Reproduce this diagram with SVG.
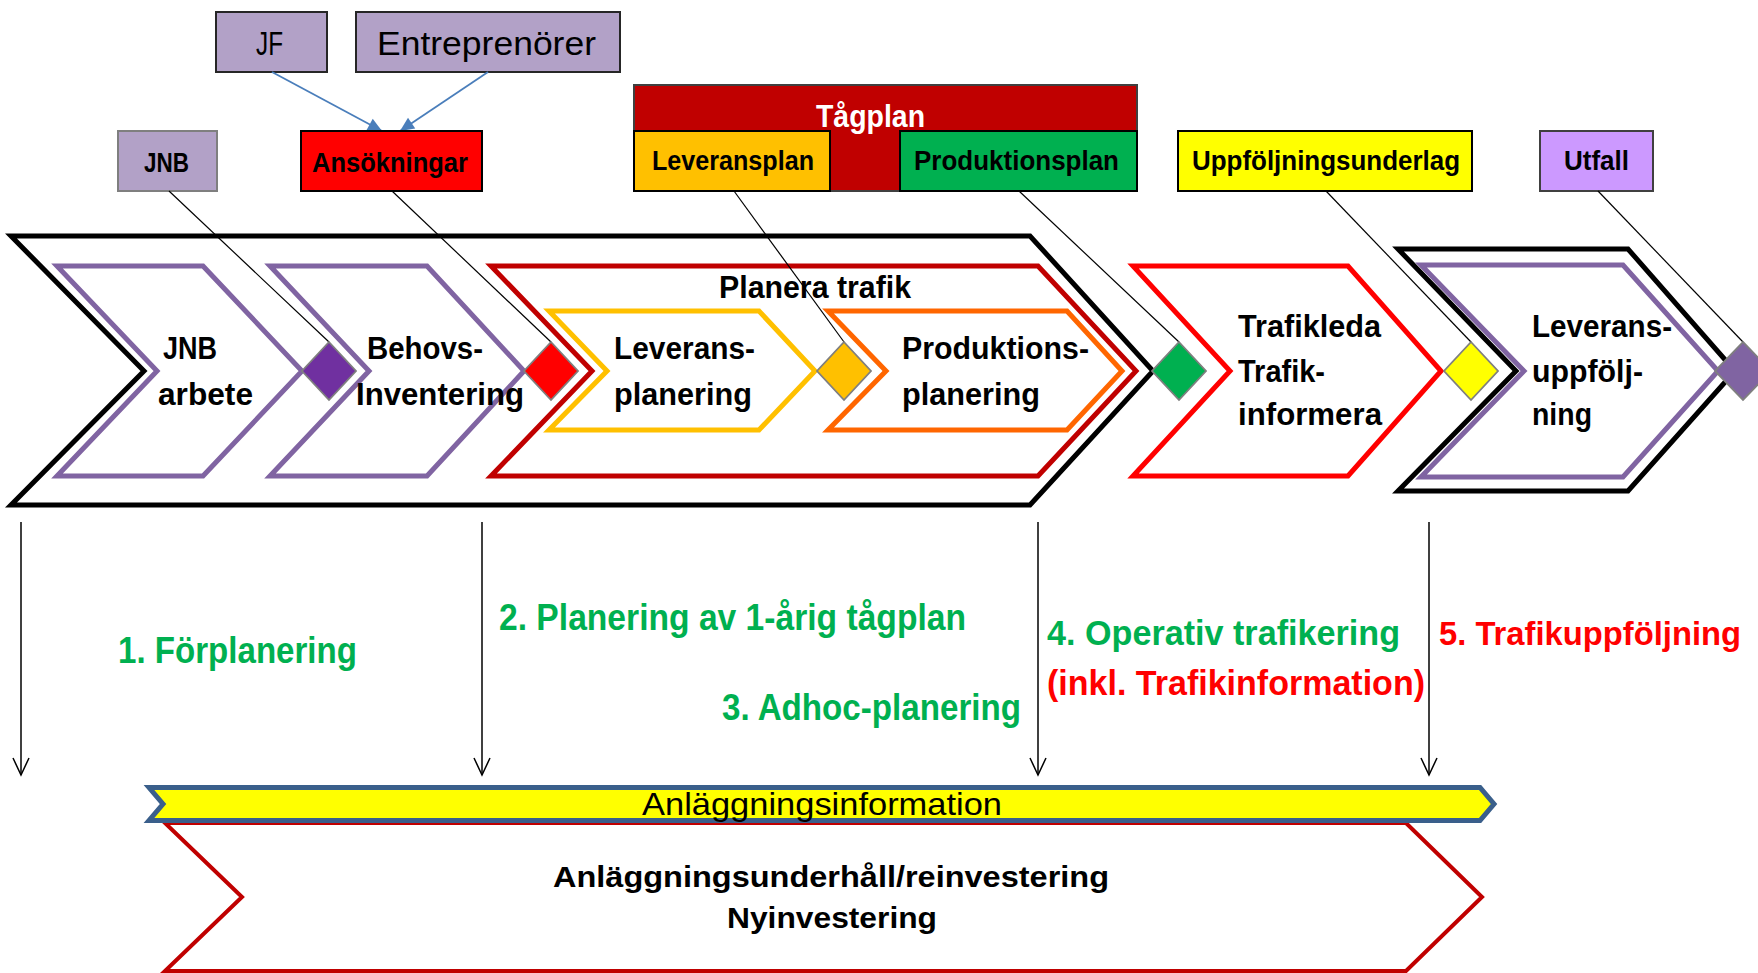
<svg xmlns="http://www.w3.org/2000/svg" width="1758" height="973" viewBox="0 0 1758 973">
<style>
.b{font-family:'Liberation Sans',Arial,sans-serif;font-weight:bold;fill:#000}
.n{font-family:'Liberation Sans',Arial,sans-serif;font-weight:normal;fill:#000}
.box{stroke-width:2}
.chev{fill:none;stroke-linejoin:miter;stroke-width:5}
.dia{stroke:#7f7f7f;stroke-width:1.8}
.thin{stroke:#000;stroke-width:1.2;fill:none}
.vert{stroke:#000;stroke-width:1.5;fill:none}
.blue{stroke:#4a7ebb;stroke-width:1.8;fill:none}
.grn{fill:#00b050}
.red{fill:#ff0000}
</style>
<defs>
<marker id="open" viewBox="-20 -10 22 20" refX="0" refY="0" markerWidth="22" markerHeight="20" markerUnits="userSpaceOnUse" orient="auto">
<path d="M -17 -8 L 0 0 L -17 8" fill="none" stroke="#000" stroke-width="1.5"/>
</marker>
<marker id="barrow" viewBox="-16 -8 18 16" refX="0" refY="0" markerWidth="18" markerHeight="16" markerUnits="userSpaceOnUse" orient="auto">
<path d="M -14 -6.5 L 0 0 L -14 6.5 Z" fill="#4a7ebb"/>
</marker>
</defs>
<rect x="0" y="0" width="1758" height="973" fill="#fff"/>

<!-- Big chevrons -->
<g id="outer-chevron">
<polygon class="chev" stroke="#000" stroke-width="6" fill="#fff" points="11,236 1030,236 1153,371 1030,505 11,505 144,371"/>
</g>
<g id="jnb-arbete">
<polygon class="chev" stroke="#8064a2" points="57,266 203,266 302,371 203,476 57,476 157,371"/>
<text class="b" font-size="32" x="163" y="359" textLength="54" lengthAdjust="spacingAndGlyphs">JNB</text>
<text class="b" font-size="32" x="158" y="405" textLength="95" lengthAdjust="spacingAndGlyphs">arbete</text>
</g>
<g id="behovs-inventering">
<polygon class="chev" stroke="#8064a2" points="270,266 427,266 524,371 427,476 270,476 369,371"/>
<text class="b" font-size="32" x="367" y="359" textLength="116" lengthAdjust="spacingAndGlyphs">Behovs-</text>
<text class="b" font-size="32" x="356" y="405" textLength="168" lengthAdjust="spacingAndGlyphs">Inventering</text>
</g>
<g id="planera-trafik">
<polygon class="chev" stroke="#c00000" points="491,266 1038,266 1136,371 1038,476 491,476 592,371"/>
<text class="b" font-size="31" x="719" y="298" textLength="192" lengthAdjust="spacingAndGlyphs">Planera trafik</text>
</g>
<g id="leverans-planering">
<polygon class="chev" stroke="#ffc000" points="549,311 759,311 815,371 759,430 549,430 607,371"/>
<text class="b" font-size="32" x="614" y="359" textLength="141" lengthAdjust="spacingAndGlyphs">Leverans-</text>
<text class="b" font-size="32" x="614" y="405" textLength="138" lengthAdjust="spacingAndGlyphs">planering</text>
</g>
<g id="produktions-planering">
<polygon class="chev" stroke="#ff6600" points="828,311 1067,311 1122,371 1067,430 828,430 886,371"/>
<text class="b" font-size="32" x="902" y="359" textLength="187" lengthAdjust="spacingAndGlyphs">Produktions-</text>
<text class="b" font-size="32" x="902" y="405" textLength="138" lengthAdjust="spacingAndGlyphs">planering</text>
</g>
<g id="trafikleda">
<polygon class="chev" stroke="#ff0000" points="1133,266 1348,266 1441,371 1348,476 1133,476 1230,371"/>
<text class="b" font-size="32" x="1238" y="337" textLength="143" lengthAdjust="spacingAndGlyphs">Trafikleda</text>
<text class="b" font-size="32" x="1238" y="382" textLength="87" lengthAdjust="spacingAndGlyphs">Trafik-</text>
<text class="b" font-size="32" x="1238" y="425" textLength="144" lengthAdjust="spacingAndGlyphs">informera</text>
</g>
<g id="leverans-uppfoljning">
<polygon class="chev" stroke="#000" stroke-width="6" points="1398,249 1628,249 1735,371 1628,491 1398,491 1516,371"/>
<polygon class="chev" stroke="#8064a2" points="1421,265 1623,265 1718,371 1623,477 1421,477 1524,371"/>
<text class="b" font-size="32" x="1532" y="337" textLength="140" lengthAdjust="spacingAndGlyphs">Leverans-</text>
<text class="b" font-size="32" x="1532" y="382" textLength="111" lengthAdjust="spacingAndGlyphs">uppfölj-</text>
<text class="b" font-size="32" x="1532" y="425" textLength="60" lengthAdjust="spacingAndGlyphs">ning</text>
</g>

<!-- Label boxes -->
<g id="jf">
<rect class="box" x="216" y="12" width="111" height="60" fill="#b2a1c7" stroke="#262626"/>
<text class="n" font-size="33" x="256" y="55" textLength="27" lengthAdjust="spacingAndGlyphs">JF</text>
</g>
<g id="entreprenorer">
<rect class="box" x="356" y="12" width="264" height="60" fill="#b2a1c7" stroke="#262626"/>
<text class="n" font-size="33" x="377" y="55" textLength="219" lengthAdjust="spacingAndGlyphs">Entreprenörer</text>
</g>
<g id="jnb-box">
<rect class="box" x="118" y="131" width="99" height="60" fill="#b2a1c7" stroke="#7f7f7f"/>
<text class="b" font-size="27" x="144" y="172" textLength="45" lengthAdjust="spacingAndGlyphs">JNB</text>
</g>
<g id="tagplan">
<rect class="box" x="634" y="85" width="503" height="106" fill="#c00000" stroke="#404040"/>
<text class="b" font-size="31" x="816" y="127" textLength="109" lengthAdjust="spacingAndGlyphs" style="fill:#fff">Tågplan</text>
</g>
<g id="leveransplan">
<rect class="box" x="634" y="131" width="196" height="60" fill="#ffc000" stroke="#000"/>
<text class="b" font-size="27" x="652" y="170" textLength="162" lengthAdjust="spacingAndGlyphs">Leveransplan</text>
</g>
<g id="produktionsplan">
<rect class="box" x="900" y="131" width="237" height="60" fill="#00b050" stroke="#000"/>
<text class="b" font-size="27" x="914" y="170" textLength="205" lengthAdjust="spacingAndGlyphs">Produktionsplan</text>
</g>
<g id="uppfoljningsunderlag">
<rect class="box" x="1178" y="131" width="294" height="60" fill="#ffff00" stroke="#000"/>
<text class="b" font-size="27" x="1192" y="170" textLength="268" lengthAdjust="spacingAndGlyphs">Uppföljningsunderlag</text>
</g>
<g id="utfall">
<rect class="box" x="1540" y="131" width="113" height="60" fill="#cc99ff" stroke="#404040"/>
<text class="b" font-size="27" x="1564" y="170" textLength="65" lengthAdjust="spacingAndGlyphs">Utfall</text>
</g>

<!-- Connectors -->
<g id="connectors">
<line class="blue" x1="272" y1="72" x2="382" y2="131" marker-end="url(#barrow)"/>
<line class="blue" x1="488" y1="72" x2="400" y2="131" marker-end="url(#barrow)"/>
<line class="thin" x1="169" y1="191" x2="329" y2="342"/>
<line class="thin" x1="392" y1="191" x2="551" y2="342"/>
<line class="thin" x1="734" y1="191" x2="844" y2="342"/>
<line class="thin" x1="1019" y1="191" x2="1179" y2="342"/>
<line class="thin" x1="1326" y1="191" x2="1471" y2="342"/>
<line class="thin" x1="1598" y1="191" x2="1743" y2="342"/>
<line class="vert" x1="21" y1="522" x2="21" y2="775" marker-end="url(#open)"/>
<line class="vert" x1="482" y1="522" x2="482" y2="775" marker-end="url(#open)"/>
<line class="vert" x1="1038" y1="522" x2="1038" y2="775" marker-end="url(#open)"/>
<line class="vert" x1="1429" y1="522" x2="1429" y2="775" marker-end="url(#open)"/>
</g>

<g id="ansokningar">
<rect class="box" x="301" y="131" width="181" height="60" fill="#ff0000" stroke="#000"/>
<text class="b" font-size="27" x="312" y="172" textLength="156" lengthAdjust="spacingAndGlyphs">Ansökningar</text>
</g>

<!-- Diamonds -->
<g id="diamond-jnb"><polygon class="dia" fill="#7030a0" points="329,342 356,371 329,400 302,371"/></g>
<g id="diamond-ansokningar"><polygon class="dia" fill="#ff0000" points="551,342 578,371 551,400 524,371"/></g>
<g id="diamond-leveransplan"><polygon class="dia" fill="#ffc000" points="844,342 871,371 844,400 817,371"/></g>
<g id="diamond-produktionsplan"><polygon class="dia" fill="#00b050" points="1179,342 1206,371 1179,400 1152,371"/></g>
<g id="diamond-uppfoljning"><polygon class="dia" fill="#ffff00" points="1471,342 1498,371 1471,400 1444,371"/></g>
<g id="diamond-utfall"><polygon class="dia" fill="#8064a2" points="1743,342 1771,371 1743,400 1715,371"/></g>

<!-- Phase labels -->
<g id="phases">
<text class="b grn" font-size="36" x="118" y="663" textLength="239" lengthAdjust="spacingAndGlyphs">1. Förplanering</text>
<text class="b grn" font-size="36" x="499" y="630" textLength="467" lengthAdjust="spacingAndGlyphs">2. Planering av 1-årig tågplan</text>
<text class="b grn" font-size="36" x="722" y="720" textLength="299" lengthAdjust="spacingAndGlyphs">3. Adhoc-planering</text>
<text class="b grn" font-size="35" x="1047" y="645" textLength="353" lengthAdjust="spacingAndGlyphs">4. Operativ trafikering</text>
<text class="b red" font-size="35" x="1047" y="695" textLength="378" lengthAdjust="spacingAndGlyphs">(inkl. Trafikinformation)</text>
<text class="b red" font-size="33" x="1439" y="645" textLength="302" lengthAdjust="spacingAndGlyphs">5. Trafikuppföljning</text>
</g>

<!-- Bottom -->
<g id="anlaggningsunderhall">
<polygon fill="#fff" stroke="#c00000" stroke-width="4" points="165,823 1406,823 1482,897 1406,971 165,971 242,897"/>
<text class="b" font-size="30" x="553" y="887" textLength="556" lengthAdjust="spacingAndGlyphs">Anläggningsunderhåll/reinvestering</text>
<text class="b" font-size="30" x="727" y="928" textLength="210" lengthAdjust="spacingAndGlyphs">Nyinvestering</text>
</g>
<g id="anlaggningsinformation">
<polygon fill="#ffff00" stroke="#3a5f8b" stroke-width="5" points="149,787.5 1480,787.5 1494,804 1480,820.5 149,820.5 163,804"/>
<text class="n" font-size="32" x="642" y="815" textLength="360" lengthAdjust="spacingAndGlyphs">Anläggningsinformation</text>
</g>
</svg>
